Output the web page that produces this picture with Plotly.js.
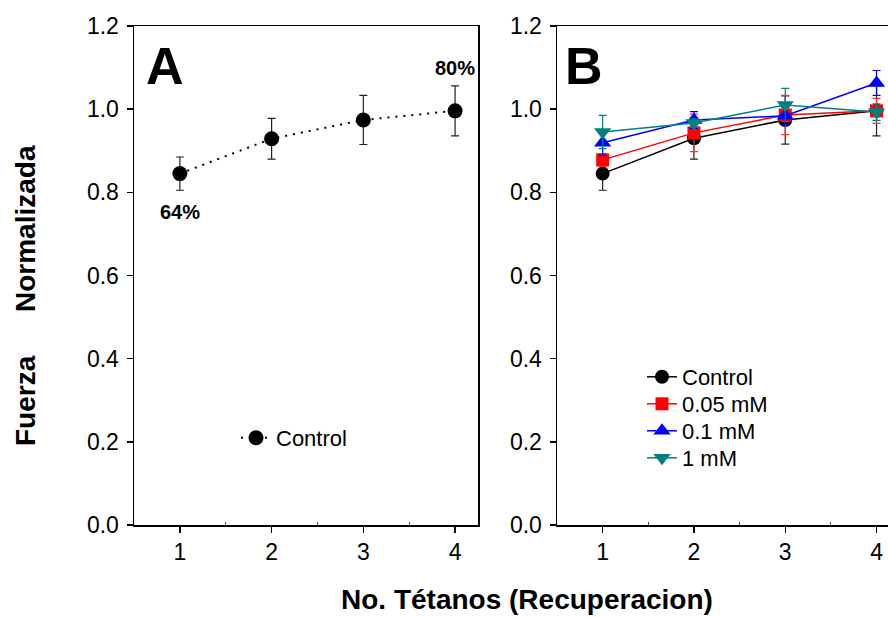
<!DOCTYPE html>
<html>
<head>
<meta charset="utf-8">
<script src="https://cdn.plot.ly/plotly-3.0.1.min.js"></script>
<style>html,body{margin:0;padding:0;background:#fff;overflow:hidden}</style>
</head>
<body>
<div id="chart" style="width:888px;height:617px"></div>
<script>
// Data
const tetanos = [1, 2, 3, 4];
const ctrlA = [0.845, 0.929, 0.974, 0.996];
const ctrlAErr = [0.04, 0.049, 0.059, 0.06];
const ctrl = [0.845, 0.930, 0.974, 0.996];
const ctrlErr = [0.04, 0.05, 0.058, 0.06];
const c005 = [0.878, 0.943, 0.986, 0.996];
const c005Err = [0.015, 0.045, 0.047, 0.03];
const c01 = [0.919, 0.974, 0.984, 1.063];
const c01Err = [0.03, 0.02, 0.02, 0.03];
const c1 = [0.945, 0.967, 1.010, 0.993];
const c1Err = [0.04, 0.01, 0.04, 0.02];
const xTicks = [1, 2, 3, 4];
const xMinorTicks = [1.5, 2.5, 3.5];
const yTicks = [0, 0.2, 0.4, 0.6, 0.8, 1.0, 1.2];

const W = 888, H = 617;
const FONT = 'Liberation Sans, Arial, sans-serif';

function errbar(arr, color) {
  return {type: 'data', array: arr, visible: true, color: color, thickness: 1.2, width: 4};
}

const traces = [
  {x: tetanos, y: ctrlA, error_y: errbar(ctrlAErr, '#222'), name: 'Control', mode: 'lines+markers',
   xaxis: 'x', yaxis: 'y', legend: 'legend', showlegend: true,
   line: {color: '#000', width: 2, dash: '2px,6px'}, marker: {symbol: 'circle', size: 15, color: '#000'}},
  {x: tetanos, y: ctrl, error_y: errbar(ctrlErr, '#222'), name: 'Control', mode: 'lines+markers',
   xaxis: 'x2', yaxis: 'y2', legend: 'legend2', showlegend: true,
   line: {color: '#000', width: 1.5}, marker: {symbol: 'circle', size: 14, color: '#000'}},
  {x: tetanos, y: c005, error_y: errbar(c005Err, '#ff3030'), name: '0.05 mM', mode: 'lines+markers',
   xaxis: 'x2', yaxis: 'y2', legend: 'legend3', showlegend: true,
   line: {color: '#ff0000', width: 1.5}, marker: {symbol: 'square', size: 13, color: '#ff0000'}},
  {x: tetanos, y: c01, error_y: errbar(c01Err, '#0000ff'), name: '0.1 mM', mode: 'lines+markers',
   xaxis: 'x2', yaxis: 'y2', legend: 'legend4', showlegend: true,
   line: {color: '#0000ff', width: 1.5}, marker: {symbol: 'triangle-up', size: 15, color: '#0000ff'}},
  {x: tetanos, y: c1, error_y: errbar(c1Err, '#008080'), name: '1 mM', mode: 'lines+markers',
   xaxis: 'x2', yaxis: 'y2', legend: 'legend5', showlegend: true,
   line: {color: '#008080', width: 1.5}, marker: {symbol: 'triangle-down', size: 15, color: '#008080'}}
];

const plotTop = 26, plotBot = 525;
const yDom = [(H - plotBot) / H, (H - plotTop) / H];

function xaxisDef(domain, range, mirror) {
  return {
    domain: domain, range: range, showgrid: false, zeroline: false,
    showline: true, linecolor: '#000', linewidth: 1.5, mirror: mirror,
    ticks: 'outside', ticklen: 6, tickwidth: 1.5, tickcolor: '#000',
    tickvals: xTicks, ticktext: xTicks.map(String),
    tickfont: {family: FONT, size: 23, color: '#000'},
    minor: {tickvals: xMinorTicks, ticks: 'inside', ticklen: 3, tickwidth: 1, tickcolor: '#444'},
    fixedrange: true
  };
}
function yaxisDef(anchor, mirror) {
  return {
    domain: yDom, range: [0, 1.2], anchor: anchor, showgrid: false, zeroline: false,
    showline: true, linecolor: '#000', linewidth: 1.5, mirror: mirror,
    ticks: 'outside', ticklen: 6, tickwidth: 1.5, tickcolor: '#000',
    tickvals: yTicks, tickformat: '.1f', ticklabelstandoff: 3,
    tickfont: {family: FONT, size: 23, color: '#000'},
    fixedrange: true
  };
}

function legendAt(leftTextPx, centerYPx) {
  return {x: (leftTextPx - 41) / W, y: (H - (centerYPx - 21)) / H, xanchor: 'left', yanchor: 'top',
    bgcolor: 'rgba(0,0,0,0)', borderwidth: 0, font: {family: FONT, size: 22, color: '#000'}};
}

function ann(text, xref, yref, x, y, size, angle) {
  return {text: text, xref: xref, yref: yref, x: x, y: y, showarrow: false,
    xanchor: 'center', yanchor: 'middle', textangle: angle || 0,
    font: {family: FONT, size: size, color: '#000'}};
}

const layout = {
  width: W, height: H,
  showlegend: true,
  margin: {l: 0, r: 0, t: 0, b: 0},
  paper_bgcolor: '#fff', plot_bgcolor: '#fff',
  font: {family: FONT, color: '#000'},
  xaxis: Object.assign(xaxisDef([134 / W, 478 / W], [0.5, 4.25], true), {anchor: 'y'}),
  yaxis: yaxisDef('x', true),
  xaxis2: Object.assign(xaxisDef([557 / W, 1], [0.5, 0.5 + 331 / 91.3], true), {anchor: 'y2'}),
  yaxis2: yaxisDef('x2', false),
  legend: legendAt(277, 438),
  legend2: legendAt(683, 377),
  legend3: legendAt(683, 404),
  legend4: legendAt(683, 431),
  legend5: legendAt(683, 458),
  annotations: [
    ann('<b>A</b>', 'x', 'y', 0.84, 1.104, 52),
    ann('<b>B</b>', 'x2', 'y2', 0.8, 1.104, 52),
    ann('<b>64%</b>', 'x', 'y', 1, 0.753, 20),
    ann('<b>80%</b>', 'x', 'y', 4, 1.099, 20),
    ann('<b>No. Tétanos (Recuperacion)</b>', 'paper', 'paper', 527 / W, (H - 599) / H, 28),
    ann('<b>Normalizada</b>', 'paper', 'paper', 25 / W, (H - 229) / H, 28, -90),
    ann('<b>Fuerza</b>', 'paper', 'paper', 25 / W, (H - 401) / H, 28, -90)
  ]
};

Plotly.newPlot('chart', traces, layout, {staticPlot: true, displayModeBar: false});
</script>
</body>
</html>
